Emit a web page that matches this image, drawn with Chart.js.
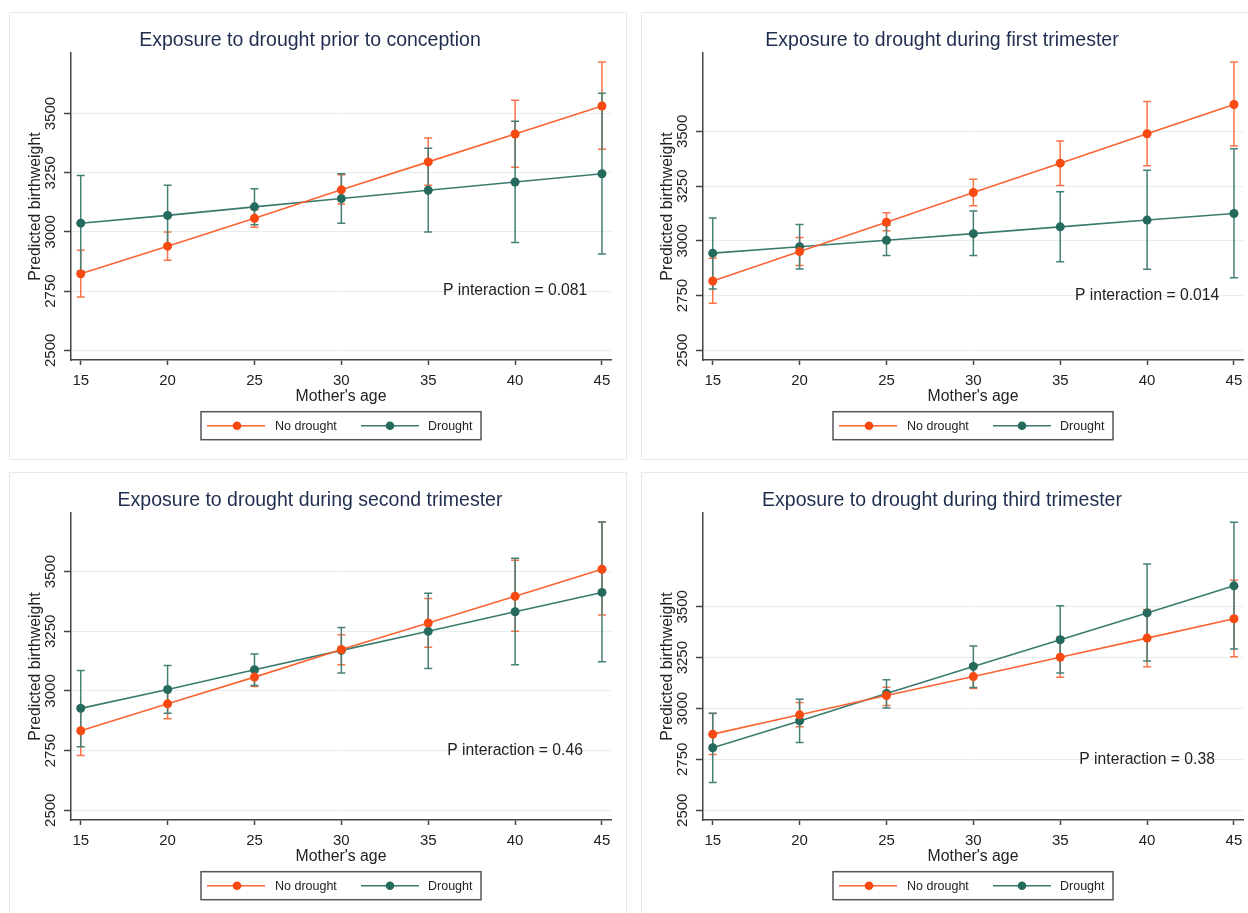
<!DOCTYPE html>
<html><head><meta charset="utf-8">
<script src="https://cdn.jsdelivr.net/npm/chart.js@4.4.1/dist/chart.umd.min.js"></script>
<style>
html,body{margin:0;padding:0;background:#fff;overflow:hidden;width:1248px;height:913px;}
.p{position:absolute;width:618px;height:448px;}
</style></head><body>
<div class="p" style="left:9px;top:12px"><canvas id="c0" width="618" height="448"></canvas></div>
<div class="p" style="left:641px;top:12px"><canvas id="c1" width="618" height="448"></canvas></div>
<div class="p" style="left:9px;top:472px"><canvas id="c2" width="618" height="448"></canvas></div>
<div class="p" style="left:641px;top:472px"><canvas id="c3" width="618" height="448"></canvas></div>
<script>
// ---- data ----
const ages = [15, 20, 25, 30, 35, 40, 45];
const yTicks = [2500, 2750, 3000, 3250, 3500];
const titles = [
  'Exposure to drought prior to conception',
  'Exposure to drought during first trimester',
  'Exposure to drought during second trimester',
  'Exposure to drought during third trimester'
];
const pLabels = ['P interaction = 0.081', 'P interaction = 0.014', 'P interaction = 0.46', 'P interaction = 0.38'];
const pAnchor = [40, 2750];
const seriesNames = ['No drought', 'Drought'];

// Panel 1: prior to conception
const noDrought1   = [2823, 2940, 3058, 3178, 3296, 3414, 3532];
const noDrought1Lo = [2725, 2880, 3020, 3118, 3197, 3273, 3349];
const noDrought1Hi = [2923, 3000, 3095, 3242, 3397, 3556, 3718];
const drought1     = [3037, 3070, 3106, 3141, 3176, 3211, 3246];
const drought1Lo   = [2834, 2945, 3030, 3037, 3000, 2955, 2907];
const drought1Hi   = [3238, 3197, 3183, 3246, 3354, 3468, 3586];
// Panel 2: first trimester
const noDrought2   = [2817, 2951, 3085, 3221, 3355, 3489, 3623];
const noDrought2Lo = [2715, 2887, 3046, 3160, 3253, 3343, 3433];
const noDrought2Hi = [2921, 3015, 3128, 3282, 3456, 3637, 3817];
const drought2     = [2944, 2973, 3003, 3033, 3064, 3095, 3125];
const drought2Lo   = [2780, 2872, 2933, 2933, 2905, 2870, 2832];
const drought2Hi   = [3104, 3075, 3073, 3136, 3224, 3322, 3421];
// Panel 3: second trimester
const noDrought3   = [2833, 2946, 3058, 3174, 3285, 3397, 3510];
const noDrought3Lo = [2729, 2883, 3019, 3110, 3183, 3250, 3318];
const noDrought3Hi = [2937, 3005, 3096, 3236, 3388, 3548, 3708];
const drought3     = [2927, 3006, 3089, 3170, 3250, 3332, 3413];
const drought3Lo   = [2766, 2907, 3023, 3075, 3094, 3110, 3122];
const drought3Hi   = [3086, 3107, 3155, 3266, 3410, 3556, 3708];
// Panel 4: third trimester
const noDrought4   = [2874, 2969, 3064, 3157, 3252, 3346, 3441];
const noDrought4Lo = [2774, 2910, 3015, 3098, 3154, 3205, 3254];
const noDrought4Hi = [2975, 3030, 3105, 3216, 3352, 3487, 3630];
const drought4     = [2807, 2939, 3074, 3207, 3338, 3470, 3603];
const drought4Lo   = [2636, 2833, 3003, 3103, 3174, 3233, 3293];
const drought4Hi   = [2977, 3046, 3141, 3307, 3505, 3710, 3916];

const yMins = [2459, 2456, 2459, 2452];
const yMaxs = [3756, 3858, 3746, 3961];

const panels = [
  [noDrought1, noDrought1Lo, noDrought1Hi, drought1, drought1Lo, drought1Hi],
  [noDrought2, noDrought2Lo, noDrought2Hi, drought2, drought2Lo, drought2Hi],
  [noDrought3, noDrought3Lo, noDrought3Hi, drought3, drought3Lo, drought3Hi],
  [noDrought4, noDrought4Lo, noDrought4Hi, drought4, drought4Lo, drought4Hi]
];

// ---- styles ----
const FONT = "'Liberation Sans', Arial, sans-serif";
const ORANGE_LINE = '#fb6432', ORANGE_DOT = '#f64a12', ORANGE_BAR = '#f87448';
const TEAL_LINE = '#3a7a6f', TEAL_DOT = '#246a5d', TEAL_BAR = '#44807600'.slice(0, 7);
const TEXT = '#222';

const frame = {
  id: 'frame',
  beforeDraw(chart) {
    const c = chart.ctx;
    c.save();
    c.fillStyle = '#fff';
    c.fillRect(0, 0, chart.width, chart.height);
    c.strokeStyle = '#e6ebea';
    c.lineWidth = 1;
    c.strokeRect(0.5, 0.5, chart.width - 1, chart.height - 1);
    c.restore();
  }
};

const errorBars = {
  id: 'errorBars',
  beforeDatasetsDraw(chart) {
    const c = chart.ctx, xs = chart.scales.x, ys = chart.scales.y;
    c.save();
    chart.data.datasets.forEach(ds => {
      c.strokeStyle = ds.barColor;
      c.lineWidth = 1.5;
      ds.lo.forEach((lo, i) => {
        const px = xs.getPixelForValue(ages[i]);
        const pl = ys.getPixelForValue(lo), ph = ys.getPixelForValue(ds.hi[i]);
        c.beginPath();
        c.moveTo(px, pl); c.lineTo(px, ph);
        c.moveTo(px - 4, pl); c.lineTo(px + 4, pl);
        c.moveTo(px - 4, ph); c.lineTo(px + 4, ph);
        c.stroke();
      });
    });
    c.restore();
  }
};

const annot = {
  id: 'annot',
  afterDraw(chart, args, opts) {
    const c = chart.ctx, xs = chart.scales.x, ys = chart.scales.y, ca = chart.chartArea;
    c.save();
    c.fillStyle = TEXT;
    c.font = '15.7px ' + FONT;
    c.textAlign = 'center';
    c.textBaseline = 'middle';
    c.fillText(opts.text, xs.getPixelForValue(pAnchor[0]), ys.getPixelForValue(pAnchor[1]));

    // legend
    const cx = (ca.left + ca.right) / 2, cy = 413.7;
    c.fillStyle = '#fff';
    c.fillRect(cx - 140, cy - 14, 280, 28);
    c.strokeStyle = '#555';
    c.lineWidth = 1.5;
    c.strokeRect(cx - 140, cy - 14, 280, 28);
    const slots = [[-134, -76, -104, -66], [20, 78, 49, 87]];
    chart.data.datasets.forEach((ds, k) => {
      const s = slots[k];
      c.strokeStyle = ds.borderColor;
      c.lineWidth = 1.6;
      c.beginPath(); c.moveTo(cx + s[0], cy); c.lineTo(cx + s[1], cy); c.stroke();
      c.fillStyle = ds.pointBackgroundColor;
      c.beginPath(); c.arc(cx + s[2], cy, 4.3, 0, Math.PI * 2); c.fill();
      c.fillStyle = TEXT;
      c.font = '12.5px ' + FONT;
      c.textAlign = 'left';
      c.fillText(ds.label, cx + s[3], cy + 0.5);
    });
    c.restore();
  }
};

panels.forEach((p, idx) => {
  const mk = (vals, lo, hi, k) => ({
    label: seriesNames[k],
    data: ages.map((a, i) => ({ x: a, y: vals[i] })),
    lo: lo, hi: hi,
    borderColor: k === 0 ? ORANGE_LINE : TEAL_LINE,
    backgroundColor: k === 0 ? ORANGE_DOT : TEAL_DOT,
    pointBackgroundColor: k === 0 ? ORANGE_DOT : TEAL_DOT,
    pointBorderWidth: 0,
    pointRadius: 4.5,
    borderWidth: 1.6,
    tension: 0,
    barColor: k === 0 ? ORANGE_BAR : TEAL_BAR
  });
  new Chart(document.getElementById('c' + idx), {
    type: 'line',
    data: { datasets: [mk(p[0], p[1], p[2], 0), mk(p[3], p[4], p[5], 1)] },
    options: {
      responsive: false,
      animation: false,
      devicePixelRatio: 1,
      layout: { padding: { left: 0, top: 0, right: 16, bottom: 0 } },
      plugins: {
        legend: { display: false },
        tooltip: { enabled: false },
        title: {
          display: true, text: titles[idx], color: '#1f2d4e',
          font: { family: FONT, size: 19.5, weight: 'normal' },
          padding: { top: 16.5, bottom: 1.1 }
        },
        annot: { text: pLabels[idx] }
      },
      scales: {
        x: {
          type: 'linear', min: 14.44, max: 45.52,
          afterBuildTicks: s => { s.ticks = ages.map(v => ({ value: v })); },
          afterFit: s => { s.height = 100; },
          grid: { drawOnChartArea: false, drawTicks: true, tickLength: 5, tickColor: '#444', tickWidth: 1.5 },
          border: { color: '#444', width: 1.5 },
          ticks: { font: { family: FONT, size: 15 }, color: TEXT, padding: 7, maxRotation: 0, autoSkip: false,
                   callback: v => String(v) },
          title: { display: true, text: "Mother's age", color: TEXT, font: { family: FONT, size: 15.8 }, padding: { top: 0, bottom: 54 } }
        },
        y: {
          type: 'linear', min: yMins[idx], max: yMaxs[idx],
          afterBuildTicks: s => { s.ticks = yTicks.map(v => ({ value: v })); },
          afterFit: s => { s.width = 62; },
          grid: { color: '#e5efee', lineWidth: 1, tickColor: '#444', tickLength: 7, tickWidth: 1.5 },
          border: { color: '#444', width: 1.5 },
          ticks: { font: { family: FONT, size: 15 }, color: TEXT, minRotation: 90, maxRotation: 90, crossAlign: 'center', padding: -4, autoSkip: false,
                   callback: v => String(v) },
          title: { display: true, text: 'Predicted birthweight', color: TEXT, font: { family: FONT, size: 15.9 }, padding: { top: 17.5, bottom: 0 } }
        }
      }
    },
    plugins: [frame, errorBars, annot]
  });
});
</script>
</body></html>
